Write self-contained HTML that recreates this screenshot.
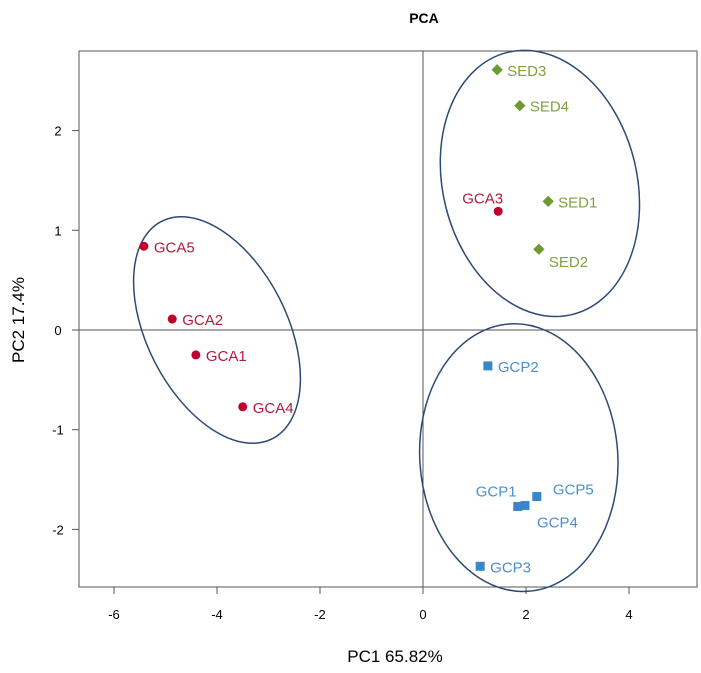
<!DOCTYPE html>
<html><head><meta charset="utf-8"><style>
body{margin:0;background:#fff}
svg text{font-family:"Liberation Sans",sans-serif}
</style></head><body>
<svg id="c" width="701" height="668">
<text x="424" y="23" text-anchor="middle" font-weight="bold" font-size="14">PCA</text>
<rect x="79" y="51" width="618" height="536" fill="none" stroke="#555" stroke-width="1"/>
<g id="ax"></g><g id="el"></g><g id="pts"></g>
<text x="395" y="662" text-anchor="middle" font-size="17">PC1  65.82%</text>
<text transform="translate(24,320) rotate(-90)" text-anchor="middle" font-size="17">PC2  17.4%</text>
</svg>
<script>
const xTicks=[-6,-4,-2,0,2,4];
const yTicks=[-2,-1,0,1,2];
const gcaNames=["GCA5","GCA2","GCA1","GCA4","GCA3"];
const gcaX=[-5.42,-4.87,-4.41,-3.50,1.46];
const gcaY=[0.84,0.11,-0.25,-0.77,1.19];
const sedNames=["SED3","SED4","SED1","SED2"];
const sedX=[1.44,1.88,2.43,2.25];
const sedY=[2.61,2.25,1.29,0.81];
const gcpNames=["GCP2","GCP1","GCP4","GCP5","GCP3"];
const gcpX=[1.26,1.84,1.98,2.21,1.11];
const gcpY=[-0.36,-1.77,-1.76,-1.67,-2.37];
const ellCX=[-4.0,2.27,1.86];
const ellCY=[0.0,1.47,-1.28];
const sx=v=>423+v*51.5, sy=v=>330-v*99.7;
const NS="http://www.w3.org/2000/svg";
function mk(t,a,p){const e=document.createElementNS(NS,t);for(const k in a)e.setAttribute(k,a[k]);p.appendChild(e);return e;}
const ax=document.getElementById('ax');
let l=mk('line',{x1:sx(0),x2:sx(0),y1:51,y2:587,stroke:'#555'},ax);


l=mk('line',{x1:79,x2:697,y1:sy(0),y2:sy(0),stroke:'#555'},ax);


xTicks.forEach(v=>{
 const t=mk('line',{x1:sx(v),x2:sx(v),y1:587,y2:594,stroke:'#555'},ax);
 
 
 const tx=mk('text',{x:sx(v),y:619,'text-anchor':'middle','font-size':13},ax);tx.textContent=v;
 
 
});
yTicks.forEach(v=>{
 const t=mk('line',{x1:72,x2:79,y1:sy(v),y2:sy(v),stroke:'#555'},ax);
 
 
 const tx=mk('text',{x:58,y:sy(v)+5,'text-anchor':'middle','font-size':13},ax);tx.textContent=v;
 
 
});
const el=document.getElementById('el');
const ellR=[[70,122,-27],[97,135,-14],[99,134,-4]];
ellCX.forEach((cx,i)=>{
 const e=mk('ellipse',{cx:sx(cx),cy:sy(ellCY[i]),rx:ellR[i][0],ry:ellR[i][1],fill:'none',stroke:'#2b4a75','stroke-width':1.5,transform:`rotate(${ellR[i][2]} ${sx(cx)} ${sy(ellCY[i])})`},el);
 
 
});
const pts=document.getElementById('pts');
const lblOff={GCA3:[-46,-14],SED2:[0,12],GCP1:[-52,-16],GCP4:[2,16],GCP5:[6,-8]};
function lab(n,x,y,c){const o=lblOff[n]||[0,0];const t=mk('text',{x:x+10+o[0],y:y+6+o[1],fill:c,'font-size':15},pts);t.textContent=n;
 
 }
gcaX.forEach((v,i)=>{const x=sx(v),y=sy(gcaY[i]);
 const c=mk('circle',{cx:x,cy:y,r:4.5,fill:'#c0002a'},pts);
 
 
 lab(gcaNames[i],x,y,'#b5193a');});
sedX.forEach((v,i)=>{const x=sx(v),y=sy(sedY[i]);
 const c=mk('rect',{x:x-4,y:y-4,width:8,height:8,fill:'#6f9a32',transform:`rotate(45 ${x} ${y})`},pts);
 
 
 lab(sedNames[i],x,y,'#7fa23e');});
gcpX.forEach((v,i)=>{const x=sx(v),y=sy(gcpY[i]);
 const c=mk('rect',{x:x-4.5,y:y-4.5,width:9,height:9,fill:'#3a86cc'},pts);
 
 
 lab(gcpNames[i],x,y,'#4a90d0');});
</script>
</body></html>
